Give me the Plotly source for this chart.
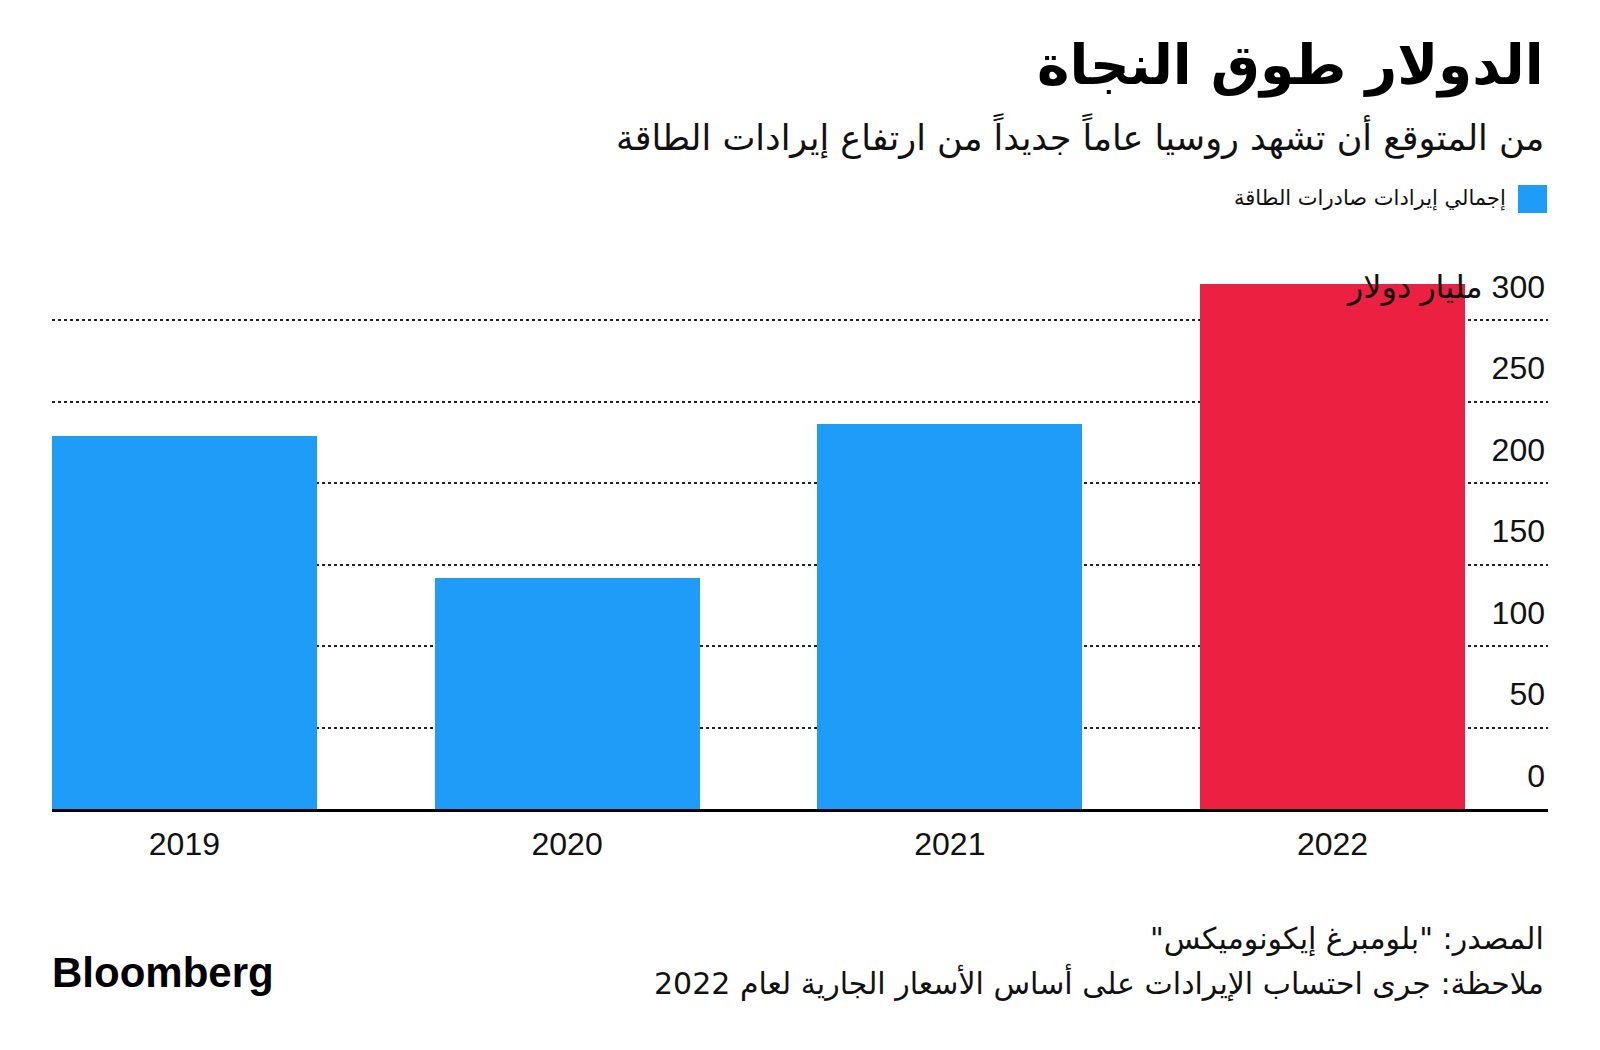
import plotly.graph_objects as go

# ---- data ----
years = ["2019", "2020", "2021", "2022"]
revenue = [229, 142, 236, 322]          # مليار دولار
bar_colors = ["#1E9CF8", "#1E9CF8", "#1E9CF8", "#EC2141"]
y_tickvals = [0, 50, 100, 150, 200, 250, 300]
y_ticktext = ["0", "50", "100", "150", "200", "250", "\u200f300 مليار دولار"]

title_text = "الدولار طوق النجاة"
subtitle_text = "من المتوقع أن تشهد روسيا عاماً جديداً من ارتفاع إيرادات الطاقة"
legend_text = "إجمالي إيرادات صادرات الطاقة"
source_text = "\u200fالمصدر: \"بلومبرغ إيكونوميكس\"\u200f"
note_text = "\u200fملاحظة: جرى احتساب الإيرادات على أساس الأسعار الجارية لعام 2022"

AR = "DejaVu Sans, Noto Sans, sans-serif"
NUM = "Liberation Sans, DejaVu Sans, sans-serif"

# page has an 8px body margin -> figure is 8px smaller than the window
OFF = 8
W, H = 1592, 1042
SCALE = 1.63                      # px per unit on the y axis
ML, MR, MB = 44, 52, 241
MT = 231
PW = W - ML - MR
PH = H - MT - MB
Y_TOP = PH / SCALE

def py(px):
    return (H - MB - (px - OFF)) / PH

def pxx(px):
    return (px - OFF - ML) / PW

fig = go.Figure()
fig.add_trace(go.Bar(
    x=list(range(len(years))),
    y=revenue,
    marker=dict(color=bar_colors, line=dict(width=0)),
    width=0.6925,
    showlegend=False,
    hoverinfo="skip",
))

fig.update_layout(
    width=W, height=H,
    margin=dict(l=ML, r=MR, t=MT, b=MB),
    paper_bgcolor="white",
    plot_bgcolor="white",
    bargap=0,
    xaxis=dict(
        range=[-0.346, 3.563],
        tickvals=list(range(len(years))),
        ticktext=years,
        showgrid=False,
        zeroline=False,
        showline=True,
        linecolor="#000000",
        linewidth=2.5,
        ticks="",
        ticklabelstandoff=5,
        tickfont=dict(family=NUM, size=32, color="#111"),
    ),
    yaxis=dict(
        range=[0, Y_TOP],
        side="right",
        tickvals=y_tickvals,
        ticktext=y_ticktext,
        ticklabelposition="inside top",
        ticklabelshift=-11,
        showgrid=True,
        gridcolor="#222222",
        gridwidth=1.5,
        griddash="3px,3px",
        zeroline=False,
        showline=False,
        ticks="",
        tickfont=dict(family=NUM, size=32, color="#111"),
    ),
    font=dict(family=AR, color="#111"),
)

ann = []
ann.append(dict(text="<b>" + title_text + "</b>", xref="paper", yref="paper",
                x=pxx(1546), y=py(66), xanchor="right", yanchor="middle", showarrow=False,
                font=dict(family=AR, size=55, color="#000")))
ann.append(dict(text=subtitle_text, xref="paper", yref="paper",
                x=pxx(1546), y=py(136), xanchor="right", yanchor="middle", showarrow=False,
                font=dict(family=AR, size=35, color="#111")))
ann.append(dict(text=legend_text, xref="paper", yref="paper",
                x=pxx(1508), y=py(198), xanchor="right", yanchor="middle", showarrow=False,
                font=dict(family=AR, size=21, color="#111")))
ann.append(dict(text=source_text, xref="paper", yref="paper",
                x=pxx(1546), y=py(939), xanchor="right", yanchor="middle", showarrow=False,
                font=dict(family=AR, size=30, color="#111")))
ann.append(dict(text=note_text, xref="paper", yref="paper",
                x=pxx(1546), y=py(982), xanchor="right", yanchor="middle", showarrow=False,
                font=dict(family=AR, size=30, color="#111")))
ann.append(dict(text="<b>Bloomberg</b>", xref="paper", yref="paper",
                x=pxx(50), y=py(972), xanchor="left", yanchor="middle", showarrow=False,
                font=dict(family="Liberation Sans, Arial, sans-serif", size=42, color="#000")))
fig.update_layout(annotations=ann)

fig.add_shape(type="rect", xref="paper", yref="paper",
              x0=pxx(1518), x1=pxx(1547), y0=py(213), y1=py(185),
              fillcolor="#1E9CF8", line=dict(width=0))

fig.write_html("out.html")
